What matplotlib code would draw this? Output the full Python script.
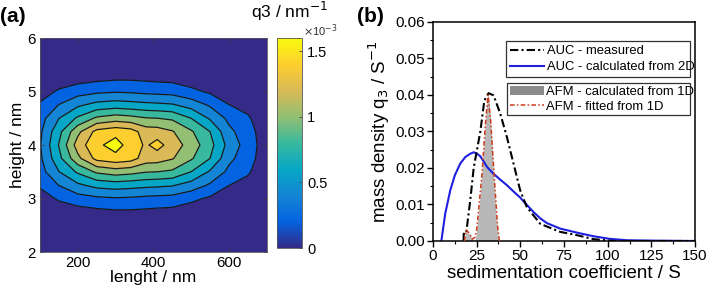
import numpy as np
import matplotlib
matplotlib.use('Agg')
import matplotlib.pyplot as plt
from matplotlib.colors import LinearSegmentedColormap, Normalize
from matplotlib.cm import ScalarMappable
from matplotlib.patches import Patch
from matplotlib.lines import Line2D

plt.rcParams['font.family'] = ['Liberation Sans', 'DejaVu Sans']

# ---- panel (a): q3 map, units of 1e-3 nm^-1
lengths = [100, 150, 200, 250, 300, 340, 380, 410, 450, 500, 550, 600, 650, 700]
heights = [2.0, 2.5, 2.75, 3.0, 3.25, 3.5, 3.75, 4.0, 4.25, 4.5, 4.75, 5.0, 5.25, 5.5, 6.0]
q3_map = [
    [0.00, 0.00, 0.00, 0.00, 0.00, 0.00, 0.00, 0.00, 0.00, 0.00, 0.00, 0.00, 0.00, 0.00],
    [0.01, 0.02, 0.03, 0.04, 0.05, 0.05, 0.04, 0.04, 0.04, 0.02, 0.01, 0.01, 0.00, 0.00],
    [0.04, 0.08, 0.10, 0.13, 0.15, 0.15, 0.14, 0.13, 0.12, 0.08, 0.05, 0.03, 0.02, 0.00],
    [0.10, 0.20, 0.28, 0.32, 0.34, 0.33, 0.31, 0.30, 0.29, 0.22, 0.15, 0.08, 0.05, 0.01],
    [0.20, 0.36, 0.50, 0.59, 0.62, 0.60, 0.58, 0.57, 0.55, 0.46, 0.33, 0.18, 0.12, 0.03],
    [0.28, 0.53, 0.74, 0.92, 0.98, 0.95, 0.90, 0.89, 0.86, 0.71, 0.51, 0.31, 0.20, 0.05],
    [0.32, 0.66, 1.02, 1.30, 1.36, 1.32, 1.16, 1.15, 1.08, 0.91, 0.71, 0.40, 0.25, 0.07],
    [0.34, 0.72, 1.15, 1.38, 1.50, 1.34, 1.22, 1.31, 1.16, 0.99, 0.77, 0.47, 0.27, 0.08],
    [0.32, 0.66, 1.02, 1.30, 1.36, 1.32, 1.16, 1.15, 1.08, 0.91, 0.71, 0.40, 0.25, 0.07],
    [0.28, 0.53, 0.74, 0.92, 0.98, 0.95, 0.90, 0.89, 0.86, 0.71, 0.51, 0.31, 0.20, 0.05],
    [0.20, 0.36, 0.50, 0.59, 0.62, 0.60, 0.58, 0.57, 0.55, 0.46, 0.33, 0.18, 0.12, 0.03],
    [0.10, 0.20, 0.28, 0.32, 0.34, 0.33, 0.31, 0.30, 0.29, 0.22, 0.15, 0.08, 0.05, 0.01],
    [0.04, 0.08, 0.10, 0.13, 0.15, 0.15, 0.14, 0.13, 0.12, 0.08, 0.05, 0.03, 0.02, 0.00],
    [0.01, 0.02, 0.03, 0.04, 0.05, 0.05, 0.04, 0.04, 0.04, 0.02, 0.01, 0.01, 0.00, 0.00],
    [0.00, 0.00, 0.00, 0.00, 0.00, 0.00, 0.00, 0.00, 0.00, 0.00, 0.00, 0.00, 0.00, 0.00],
]
cbar_ticks = [0, 0.5, 1, 1.5]
cbar_labels = ['0', '0.5', '1', '1.5']

# ---- panel (b): sedimentation coefficient distributions
auc_meas_s = [17.5, 17.6, 19.0, 20.0, 21.3, 23.3, 25.2, 27.1, 29.4, 31.8, 34.7, 38.5,
              42.3, 46.1, 49.9, 53.7, 61.4, 72.8, 82.3, 92.0, 103.0, 150.0]
auc_meas_q = [0.0, 0.002, 0.002, 0.006, 0.011, 0.020, 0.025, 0.030, 0.0385, 0.0405, 0.0399, 0.0349,
              0.0285, 0.0212, 0.0139, 0.0093, 0.0047, 0.0025, 0.0016, 0.0005, 0.0, 0.0]

auc_2d_s = [4.8, 7.0, 9.9, 12.5, 15.6, 18.5, 21.3, 23.3, 25.0, 27.1, 29.0, 30.9, 34.7, 38.5,
            42.3, 46.0, 49.9, 53.7, 57.6, 61.4, 65.2, 72.8, 82.3, 91.9, 101.0, 111.0, 125.0, 150.0]
auc_2d_q = [0.0, 0.0075, 0.0139, 0.0180, 0.0212, 0.0230, 0.0239, 0.0243, 0.0240, 0.0232, 0.0218,
            0.0203, 0.0184, 0.0168, 0.0153, 0.0136, 0.0119, 0.0099, 0.0079, 0.0062, 0.0049,
            0.0034, 0.0023, 0.0013, 0.0006, 0.0002, 0.0001, 0.0]

afm_1d_s = [18.0, 19.0, 20.0, 21.0, 22.0, 23.0, 24.0, 25.0, 26.0, 27.0, 28.0, 29.0, 30.0, 31.0,
            31.5, 32.0, 33.0, 34.0, 35.0, 36.0, 37.0, 37.5]
afm_1d_q = [0.0, 0.003, 0.002, 0.002, 0.001, 0.0, 0.0, 0.003, 0.008, 0.013, 0.019, 0.026, 0.033,
            0.039, 0.040, 0.039, 0.033, 0.025, 0.016, 0.008, 0.003, 0.0]

afm_fit_s = [18.0, 19.0, 20.0, 21.0, 22.5, 24.0, 25.0, 26.0, 28.0, 30.0, 31.5, 33.0, 35.0, 37.0, 38.0]
afm_fit_q = [0.0, 0.003, 0.0025, 0.002, 0.0005, 0.001, 0.003, 0.008, 0.018, 0.032, 0.040, 0.033,
             0.018, 0.004, 0.0]

parula9 = ['#352a87', '#0363e1', '#1485d4', '#06a7c6', '#38b99e',
           '#92bf73', '#d9ba56', '#fcce2e', '#f9fb0e']
parula = LinearSegmentedColormap.from_list('parula', parula9)

fig = plt.figure(figsize=(7.09, 3.0), dpi=100)

# ------------------------------------------------------------------ (a)
ax1 = fig.add_axes([0.0564, 0.16, 0.320, 0.7133])
X, Y = np.meshgrid(lengths, heights)
Z = np.array(q3_map)
lev = np.linspace(0, 1.6, 10)
fill_lev = [-1.0] + list(lev[1:-1]) + [10.0]
ax1.contourf(X, Y, Z, levels=fill_lev, colors=parula9)
ax1.contour(X, Y, Z, levels=lev[1:-1], colors='#1a1a1a', linewidths=0.9)
ax1.set_xlim(100, 700)
ax1.set_ylim(2, 6)
ax1.set_xticks([200, 400, 600])
ax1.set_yticks([2, 3, 4, 5, 6])
ax1.tick_params(direction='in', top=True, right=True, length=3, width=0.6,
                labelsize=10.8, color='#444444', pad=3)
for sp in ax1.spines.values():
    sp.set_linewidth(0.6)
    sp.set_color('#555555')
ax1.set_xlabel('lenght / nm', fontsize=12.5, labelpad=0)
ax1.set_ylabel('height / nm', fontsize=12.5, labelpad=2)

cax = fig.add_axes([0.3907, 0.1733, 0.0353, 0.70])
sm = ScalarMappable(norm=Normalize(0, 1.6), cmap=parula)
cb = fig.colorbar(sm, cax=cax)
cb.set_ticks(cbar_ticks)
cb.set_ticklabels(cbar_labels)
cb.ax.tick_params(direction='in', length=2, width=0.6, labelsize=10.5, color='#444444')
cb.outline.set_linewidth(0.6)
cb.outline.set_edgecolor('#555555')
fig.text(0.408, 0.962, 'q3 / nm$^{-1}$', fontsize=12.5, ha='center', va='center')
fig.text(0.452, 0.896, '$\\times$10$^{-3}$', fontsize=8, ha='center', va='center', color='#333333')
fig.text(0.0, 0.945, '(a)', fontsize=15, fontweight='bold', va='center')

# ------------------------------------------------------------------ (b)
ax2 = fig.add_axes([0.6107, 0.1967, 0.3696, 0.73])
ax2.fill_between(afm_1d_s, afm_1d_q, color='#b8b8b8', lw=0, zorder=1)
ax2.plot(auc_2d_s, auc_2d_q, color='#1f1fe0', lw=1.5, zorder=2)
ax2.plot(auc_meas_s, auc_meas_q, color='k', lw=1.5, ls=(0, (4, 1.5, 1, 1.5)), zorder=3)
ax2.plot(afm_fit_s, afm_fit_q, color='#cc3a1a', lw=1.1, ls=(0, (3, 1.5, 1, 1.5)), zorder=4)
ax2.set_xlim(0, 150)
ax2.set_ylim(0, 0.06)
ax2.set_xticks(np.arange(0, 151, 25))
ax2.set_xticks(np.arange(0, 151, 12.5), minor=True)
ax2.set_yticks(np.arange(0, 0.061, 0.01))
ax2.set_yticks(np.arange(0, 0.061, 0.005), minor=True)
ax2.yaxis.set_major_formatter(matplotlib.ticker.FormatStrFormatter('%.2f'))
ax2.tick_params(which='major', direction='out', length=4, width=1.0, labelsize=11, pad=2)
ax2.tick_params(which='minor', direction='out', length=2, width=0.8)
for sp in ax2.spines.values():
    sp.set_linewidth(1.1)
ax2.set_xlabel('sedimentation coefficient / S', fontsize=13.5, labelpad=1)
ax2.set_ylabel('mass density q$_3$ / S$^{-1}$', fontsize=13.5, labelpad=2)
fig.text(0.503, 0.945, '(b)', fontsize=15, fontweight='bold', va='center')

h1 = [Line2D([], [], color='k', lw=1.5, ls=(0, (4, 1.5, 1, 1.5))),
      Line2D([], [], color='#1f1fe0', lw=1.5)]
leg1 = ax2.legend(h1, ['AUC - measured', 'AUC - calculated from 2D'],
                  loc='upper left', bbox_to_anchor=(0.279, 0.913, 0.702, 0.0), mode='expand',
                  fontsize=9.4, frameon=True, fancybox=False, edgecolor='k',
                  handlelength=2.6, handletextpad=0.2, borderpad=0.3, labelspacing=0.3,
                  borderaxespad=0)
leg1.get_frame().set_linewidth(0.9)
ax2.add_artist(leg1)
h2 = [Patch(facecolor='#8c8c8c', edgecolor='none'),
      Line2D([], [], color='#cc3a1a', lw=1.1, ls=(0, (3, 1.5, 1, 1.5)))]
leg2 = ax2.legend(h2, ['AFM - calculated from 1D', 'AFM - fitted from 1D'],
                  loc='upper left', bbox_to_anchor=(0.283, 0.721, 0.698, 0.0), mode='expand',
                  fontsize=9.4, frameon=True, fancybox=False, edgecolor='k',
                  handlelength=2.6, handletextpad=0.2, borderpad=0.2, labelspacing=0.2,
                  borderaxespad=0)
leg2.get_frame().set_linewidth(0.9)

fig.savefig('out.png', dpi=100)
